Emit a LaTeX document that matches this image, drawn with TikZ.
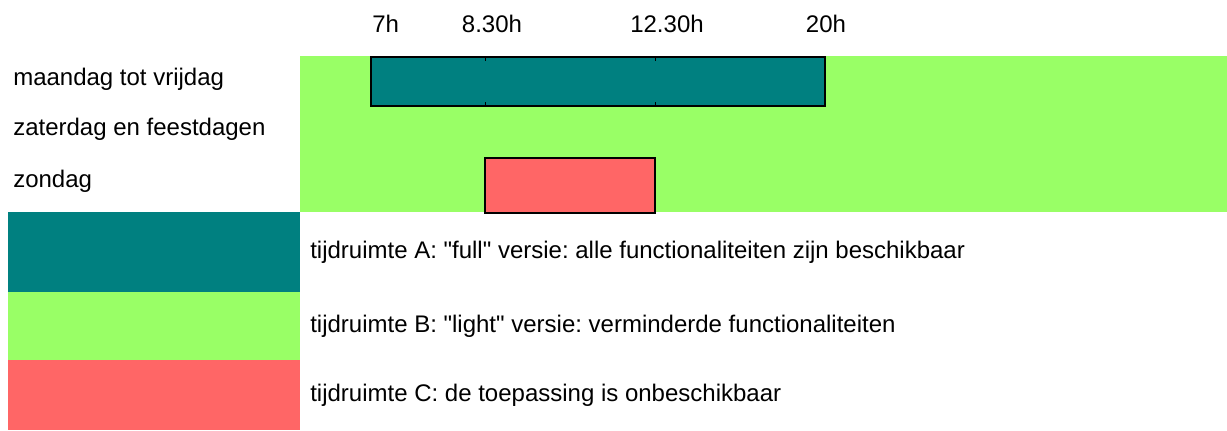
\documentclass[tikz,border=0pt]{standalone}
\usepackage{fontspec}
\setmainfont{Liberation Sans}
\frenchspacing
\definecolor{fullcol}{RGB}{0,128,128}
\definecolor{lightcol}{RGB}{153,255,102}
\definecolor{offcol}{RGB}{255,102,102}
\tikzset{ %inner sep = 0.5mm,
  {day label/.style} ={anchor=base west, inner sep=0,
                       font=\fontsize{18}{20}\selectfont},
  {hour label/.style} ={day label, anchor=base},
  {legend label/.style} ={day label, anchor=west},
  {slot/.style} ={draw=black, line width=1.5pt},
  {tick/.style} ={draw=black, line width=0.75pt},
}
\begin{document}
\begin{tikzpicture}[x=0.75pt,y=-0.75pt]
    \useasboundingbox (0,0) rectangle (1227,430);
    % uren
    \node[hour label, anchor=base west] (h7) at (372,32) {7h};
    \node[hour label] (h830) at (492,32) {8.30h};
    \node[hour label] (h1230) at (667,32) {12.30h};
    \node[hour label] (h20) at (826,32) {20h};
    % dagen
    \node[day label] (week) at (13,85) {maandag tot vrijdag};
    \node[day label] (zat) at (13,135) {zaterdag en feestdagen};
    \node[day label] (zon) at (13,187) {zondag};
    % rooster
    \fill[lightcol] (300,56) rectangle (1227,212);
    \filldraw[slot, fill=fullcol] (371,57) rectangle (825,106);
    \foreach \x in {485,655} {
      \draw[tick] (\x,57) -- (\x,61);
      \draw[tick] (\x,106) -- (\x,102);
    }
    \filldraw[slot, fill=offcol] (485,158) rectangle (655,213);
    % legende
    \fill[fullcol] (8,212) rectangle (300,292);
    \fill[lightcol] (8,292) rectangle (300,360);
    \fill[offcol] (8,360) rectangle (300,430);
    \node[legend label] (full) at (310,252) {tijdruimte A: \textquotedbl
    full\textquotedbl{} versie: alle functionaliteiten zijn beschikbaar};
    \node[legend label] (light) at (310,326) {tijdruimte B: \textquotedbl
    light\textquotedbl{} versie: verminderde functionaliteiten};
    \node[legend label] (off) at (310,395) {tijdruimte C: de toepassing is
    onbeschikbaar};
\end{tikzpicture}
\end{document}
